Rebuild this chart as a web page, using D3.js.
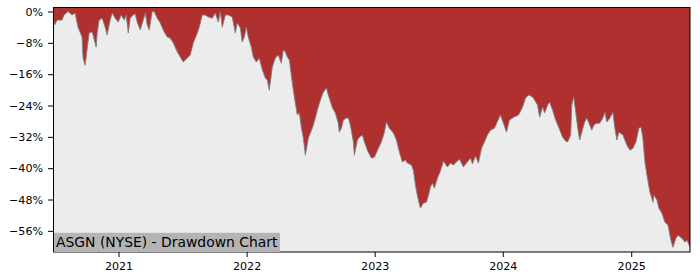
<!DOCTYPE html>
<html>
<head>
<meta charset="utf-8">
<script src="https://cdn.jsdelivr.net/npm/d3@7"></script>
<style>
  body { margin: 0; background: #fff; }
  text { font-family: "DejaVu Sans", sans-serif; }
</style>
</head>
<body>
<div id="chart"></div>
<script>
// Drawdown of ASGN.
// Dates are decimal years, drawdowns in percent.
const dates = [
  2020.490, 2020.505, 2020.521, 2020.560, 2020.576, 2020.607, 2020.638, 2020.662, 2020.685, 2020.716,
  2020.724, 2020.740, 2020.755, 2020.771, 2020.795, 2020.802, 2020.826, 2020.834, 2020.849, 2020.873,
  2020.896, 2020.912, 2020.935, 2020.951, 2020.974, 2020.998, 2021.021, 2021.045, 2021.060, 2021.076,
  2021.091, 2021.115, 2021.130, 2021.146, 2021.170, 2021.193, 2021.209, 2021.224, 2021.240, 2021.263,
  2021.279, 2021.302, 2021.326, 2021.349, 2021.380, 2021.404, 2021.427, 2021.459, 2021.482, 2021.505,
  2021.537, 2021.560, 2021.584, 2021.615, 2021.630, 2021.654, 2021.677, 2021.701, 2021.732, 2021.755,
  2021.779, 2021.795, 2021.810, 2021.834, 2021.857, 2021.888, 2021.912, 2021.927, 2021.951, 2021.966,
  2021.982, 2021.998, 2022.013, 2022.037, 2022.052, 2022.076, 2022.099, 2022.123, 2022.146, 2022.162,
  2022.177, 2022.201, 2022.224, 2022.248, 2022.271, 2022.287, 2022.302, 2022.318, 2022.334, 2022.357,
  2022.373, 2022.396, 2022.412, 2022.427, 2022.443, 2022.459, 2022.482, 2022.513, 2022.537, 2022.552,
  2022.576, 2022.599, 2022.623, 2022.638, 2022.670, 2022.693, 2022.716, 2022.724, 2022.740, 2022.755,
  2022.779, 2022.795, 2022.810, 2022.834, 2022.841, 2022.865, 2022.880, 2022.904, 2022.920, 2022.943,
  2022.974, 2022.998, 2023.029, 2023.052, 2023.076, 2023.091, 2023.115, 2023.146, 2023.170, 2023.193,
  2023.216, 2023.240, 2023.255, 2023.287, 2023.302, 2023.318, 2023.334, 2023.357, 2023.380, 2023.404,
  2023.420, 2023.435, 2023.451, 2023.466, 2023.490, 2023.513, 2023.537, 2023.568, 2023.591, 2023.615,
  2023.638, 2023.662, 2023.693, 2023.716, 2023.748, 2023.763, 2023.787, 2023.810, 2023.834, 2023.857,
  2023.880, 2023.904, 2023.935, 2023.959, 2023.982, 2024.005, 2024.029, 2024.052, 2024.084, 2024.123,
  2024.154, 2024.177, 2024.201, 2024.232, 2024.248, 2024.271, 2024.287, 2024.310, 2024.326, 2024.349,
  2024.365, 2024.388, 2024.412, 2024.435, 2024.466, 2024.490, 2024.505, 2024.529, 2024.537, 2024.552,
  2024.568, 2024.584, 2024.599, 2024.615, 2024.638, 2024.654, 2024.677, 2024.693, 2024.709, 2024.732,
  2024.755, 2024.779, 2024.795, 2024.810, 2024.834, 2024.857, 2024.873, 2024.888, 2024.904, 2024.935,
  2024.966, 2024.990, 2025.013, 2025.037, 2025.060, 2025.076, 2025.091, 2025.107, 2025.123, 2025.146,
  2025.170, 2025.177, 2025.201, 2025.216, 2025.240, 2025.263, 2025.287, 2025.310, 2025.326, 2025.349,
  2025.365, 2025.396, 2025.420, 2025.435, 2025.459
];
const drawdown = [
  -1.7, -3.4, -2.2, -2.2, -0.9, 0, -0.9, -0.4, -4.0, -6.5,
  -11.9, -13.7, -9.8, -5.5, -5.2, -6.0, -9.1, -5.5, -2.2, -1.7,
  -4.0, -6.0, -2.2, -0.4, -1.7, -2.7, -0.9, -2.2, -0.9, -5.5,
  -1.7, -0.9, -0.6, -2.7, -4.7, -2.2, -0.4, -3.4, -4.7, 0,
  0, -1.7, -2.9, -4.7, -6.5, -6.8, -8.0, -10.3, -11.6, -12.9,
  -11.9, -11.1, -8.0, -5.5, -4.0, -0.9, -0.9, -1.4, -1.7, -0.4,
  -2.7, 0, -4.0, -0.9, -0.9, -1.4, -5.5, -2.9, -4.2, -7.8,
  -6.5, -4.0, -6.5, -9.1, -11.6, -12.9, -11.9, -14.9, -17.0, -17.5,
  -20.1, -14.2, -11.9, -11.1, -13.2, -9.8, -10.3, -11.6, -12.4, -18.3,
  -21.8, -26.4, -25.9, -29.5, -32.3, -36.7, -32.3, -29.8, -27.2, -25.2,
  -22.6, -20.6, -19.5, -21.3, -24.6, -25.9, -28.5, -30.8, -29.8, -27.7,
  -27.2, -27.2, -29.0, -33.3, -36.7, -32.8, -32.1, -31.5, -33.3, -35.4,
  -37.4, -37.2, -34.9, -33.3, -30.8, -28.2, -29.8, -31.0, -32.8, -35.9,
  -38.4, -37.9, -38.7, -39.2, -40.5, -44.3, -47.1, -50.2, -48.9, -48.7,
  -46.9, -44.8, -43.8, -45.1, -42.5, -40.7, -38.2, -39.7, -38.7, -39.2,
  -38.4, -37.7, -39.7, -38.7, -37.4, -38.9, -36.9, -38.7, -34.9, -33.3,
  -31.5, -30.3, -29.8, -28.0, -26.4, -28.5, -30.8, -27.7, -27.0, -26.4,
  -24.4, -22.1, -21.3, -21.8, -22.6, -23.9, -27.0, -24.4, -25.9, -23.9,
  -23.1, -25.2, -27.7, -29.5, -32.1, -33.1, -33.3, -31.5, -23.9, -21.8,
  -25.7, -29.8, -32.8, -30.8, -28.2, -27.2, -29.0, -30.3, -29.0, -28.5,
  -28.5, -27.2, -25.7, -28.2, -27.2, -25.7, -29.8, -32.8, -30.8, -31.5,
  -34.1, -35.4, -34.9, -33.3, -29.8, -29.5, -32.3, -38.4, -41.8, -46.1,
  -48.7, -46.9, -48.1, -50.2, -51.5, -53.8, -54.5, -58.4, -60.2, -57.9,
  -57.1, -57.9, -58.9, -58.4, -60.2
];
const yTicks = [0, -8, -16, -24, -32, -40, -48, -56];
const title = 'ASGN (NYSE) - Drawdown Chart';

const W = 700, H = 280;
const margin = { top: 7, right: 10, bottom: 28, left: 53 };

function toDate(t) {
  const yr = Math.floor(t);
  const a = new Date(yr, 0, 1), b = new Date(yr + 1, 0, 1);
  return new Date(+a + (t - yr) * (b - a));
}

const data = dates.map((t, i) => ({ date: toDate(t), value: drawdown[i] }));

const svg = d3.select('#chart').append('svg')
  .attr('width', W)
  .attr('height', H);

const x = d3.scaleTime()
  .domain(d3.extent(data, d => d.date))
  .range([margin.left, W - margin.right]);

const y = d3.scaleLinear()
  .domain([1.15, -61.4])
  .range([margin.top, H - margin.bottom]);

// plot background
svg.append('rect')
  .attr('x', margin.left)
  .attr('y', margin.top)
  .attr('width', W - margin.left - margin.right)
  .attr('height', H - margin.top - margin.bottom)
  .attr('fill', '#ececec');

// red fill from the top of the axes down to the drawdown curve
const area = d3.area()
  .x(d => x(d.date))
  .y0(margin.top)
  .y1(d => y(d.value));

svg.append('path')
  .datum(data)
  .attr('fill', '#b03030')
  .attr('d', area);

svg.append('path')
  .datum(data)
  .attr('fill', 'none')
  .attr('stroke', '#7f7f7f')
  .attr('stroke-width', 0.9)
  .attr('d', d3.line().x(d => x(d.date)).y(d => y(d.value)));

// axes
const yAxis = svg.append('g')
  .attr('transform', 'translate(' + margin.left + ',0)')
  .call(d3.axisLeft(y)
    .tickValues(yTicks)
    .tickSize(5)
    .tickPadding(5)
    .tickFormat(d => (d < 0 ? '\u2212' : '') + Math.abs(d) + '%'));

const xAxis = svg.append('g')
  .attr('transform', 'translate(0,' + (H - margin.bottom) + ')')
  .call(d3.axisBottom(x)
    .ticks(d3.timeYear.every(1))
    .tickSize(5)
    .tickPadding(5)
    .tickFormat(d3.timeFormat('%Y')));

[yAxis, xAxis].forEach(g => {
  g.select('.domain').remove();
  g.selectAll('line').attr('stroke', '#000').attr('stroke-width', 1);
  g.selectAll('text')
    .attr('fill', '#000')
    .style('font-family', '"DejaVu Sans", sans-serif')
    .style('font-size', '11.1px');
});

// spines
svg.append('rect')
  .attr('x', margin.left + 0.5)
  .attr('y', margin.top + 0.5)
  .attr('width', W - margin.left - margin.right - 0.5)
  .attr('height', H - margin.top - margin.bottom - 0.5)
  .attr('fill', 'none')
  .attr('stroke', '#000')
  .attr('stroke-width', 1);

// title box in the lower left corner
const label = svg.append('g');
const labelText = label.append('text')
  .attr('x', margin.left + 3)
  .attr('y', 247.3)
  .attr('fill', '#000')
  .style('font-size', '13.9px')
  .text(title);
const bb = labelText.node().getBBox();
label.insert('rect', 'text')
  .attr('x', margin.left + 1)
  .attr('y', bb.y - 1.5)
  .attr('width', bb.width + 4)
  .attr('height', (H - margin.bottom) - (bb.y - 1.5))
  .attr('fill', '#b4b4b4');
</script>
</body>
</html>
